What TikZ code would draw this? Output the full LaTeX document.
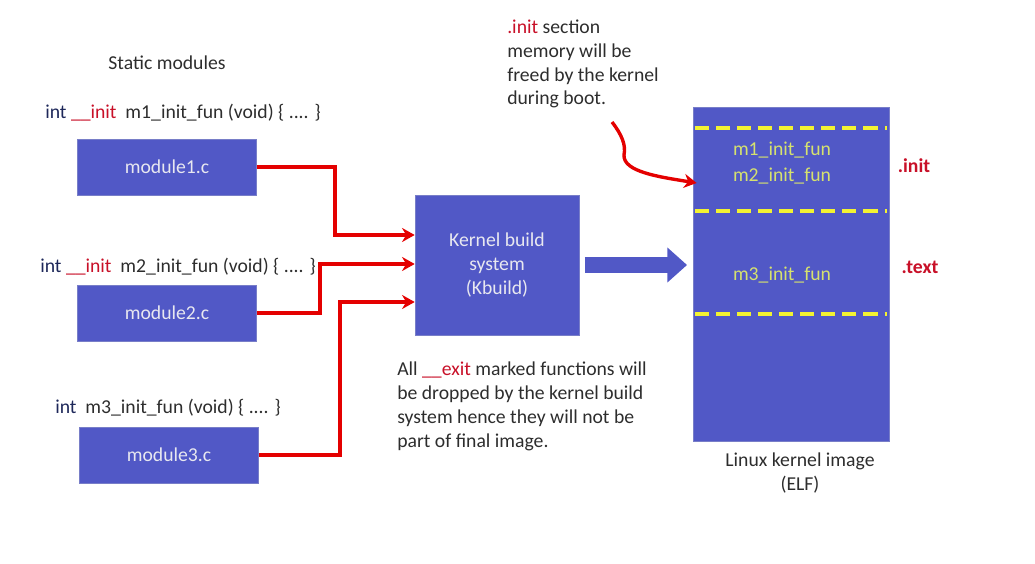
\documentclass[tikz,border=0pt]{standalone}
\usepackage{fontspec}
\setmainfont{Carlito}
\usetikzlibrary{positioning,arrows.meta,calc}
\definecolor{boxblue}{RGB}{81,88,198}
\definecolor{boxedge}{RGB}{120,126,200}
\definecolor{boxtext}{RGB}{232,232,240}
\definecolor{sectyellow}{RGB}{242,242,50}
\definecolor{funtext}{RGB}{214,226,110}
\definecolor{feedred}{RGB}{228,0,0}
\definecolor{markred}{RGB}{200,16,40}
\definecolor{intnavy}{RGB}{30,40,90}
\definecolor{notegray}{RGB}{45,45,45}
\newcommand{\txtsz}{\fontsize{14}{17}\selectfont}
\newcommand{\redmark}[1]{\textcolor{markred}{#1}}
\tikzset{
  modbox/.style={draw=boxedge,fill=boxblue,minimum width=4.475cm,
                 minimum height=1.4cm,text=boxtext,font=\txtsz},
  buildbox/.style={modbox,minimum width=4.1cm,minimum height=3.5cm,align=center},
  elfbox/.style={modbox,minimum width=4.9cm,minimum height=8.35cm},
  codeline/.style={anchor=west,inner sep=0pt,font=\txtsz,text=notegray},
  note/.style={anchor=west,inner sep=0pt,font=\txtsz,text=notegray,align=left},
  funlabel/.style={inner sep=0pt,font=\txtsz,text=funtext,align=center},
  seclabel/.style={inner sep=0pt,font=\txtsz\bfseries,text=markred},
  feed/.style={-{Stealth[length=9pt,width=10pt]},line width=2.8pt,feedred},
  bigarrow/.style={-{Triangle[length=14pt,width=24pt]},line width=11.3pt,boxblue},
  sectdash/.style={sectyellow,line width=2.8pt,dash pattern=on 10pt off 5pt},
}

\begin{document}
\begin{tikzpicture}[x=0.025cm,y=-0.025cm]
  \useasboundingbox (0,0) rectangle (1035,564);
  % sources
  \node[codeline,anchor=center] (title) at (167,63) {Static modules};
  \node[codeline] (code1) at (45,113)
       {\textcolor{intnavy}{int} \redmark{\_\_init}\ \ m1\_init\_fun (void) \{ .... \}};
  \node[modbox] (mod1) at (167,167) {module1.c};
  \node[codeline] (code2) at (40,267)
       {\textcolor{intnavy}{int} \redmark{\_\_init}\ \ m2\_init\_fun (void) \{ .... \}};
  \node[modbox] (mod2) at (167,313) {module2.c};
  \node[codeline] (code3) at (55,408)
       {\textcolor{intnavy}{int}\ \ m3\_init\_fun (void) \{ .... \}};
  \node[modbox] (mod3) at (169,455) {module3.c};

  % build system
  \node[buildbox] (kbuild) at (497,265) {Kernel build\\system\\(Kbuild)};
  \coordinate (in1) at ($(kbuild.west)+(0,-30)$);
  \coordinate (in2) at ($(kbuild.west)+(0,-1)$);
  \coordinate (in3) at ($(kbuild.west)+(0,37)$);
  \draw[feed] (mod1.east) -- ++(78,0) |- (in1);
  \draw[feed] (mod2.east) -- ++(63,0) |- (in2);
  \draw[feed] (mod3.east) -- ++(81,0) |- (in3);
  \node[note] (exitnote) at (397,406)
       {All \redmark{\_\_exit} marked functions will\\be dropped by the kernel build\\
        system hence they will not be\\part of final image.};

  % kernel image
  \node[elfbox] (elf) at (791,274) {};
  \foreach \dy in {21,104,207}
    \draw[sectdash] ($(elf.north west)+(2,\dy)$) -- ($(elf.north east)+(-2,\dy)$);
  \node[funlabel] (initfuns) at (782,163) {m1\_init\_fun\\[1pt]m2\_init\_fun};
  \node[funlabel] (textfuns) at (782,275) {m3\_init\_fun};
  \node[seclabel] (initsec) at (914,166) {.init};
  \node[seclabel] (textsec) at (920,267) {.text};
  \node[codeline,anchor=center,align=center] (elfname) at (800,473)
       {Linux kernel image\\(ELF)};
  \draw[bigarrow,shorten <=4pt,shorten >=4pt] (kbuild.east) -- (kbuild.east -| elf.west);

  % freed note
  \node[note] (initnote) at (507,64)
       {\redmark{.init} section\\memory will be\\freed by the kernel\\during boot.};
  \coordinate (notetail) at (612,122);
  \coordinate (initin) at ($(elf.west)+(4,-91)$);
  \draw[feed,line width=2.4pt] (notetail) .. controls (622,135) and (626,145) .. (624,155)
       .. controls (623,172) and (660,177) .. (initin);
\end{tikzpicture}
\end{document}
